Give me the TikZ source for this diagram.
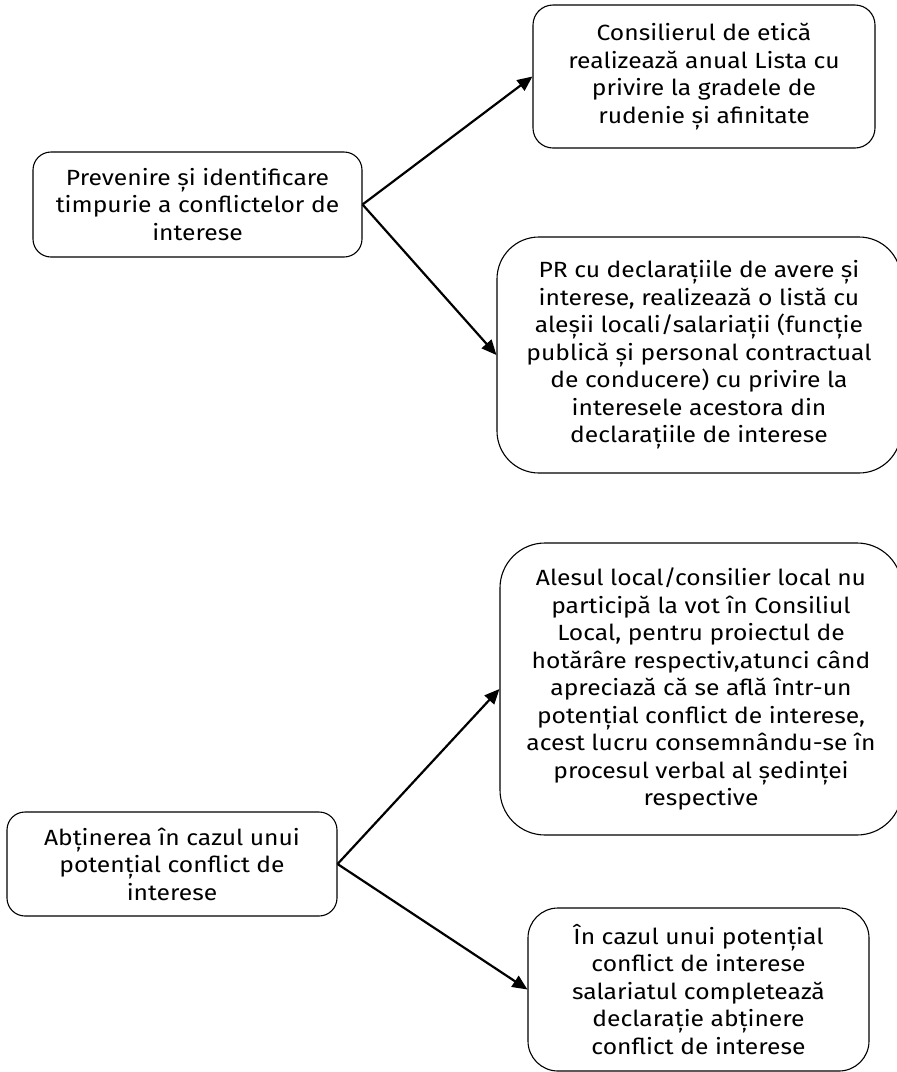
\documentclass[tikz,border=0pt]{standalone}
\usepackage{fontspec}
\setmainfont{Fira Sans}[FakeStretch=1.12]
\usetikzlibrary{arrows.meta}
\begin{document}
\begin{tikzpicture}[x=1pt,y=-1pt,
  box/.style={draw, line width=1.1pt, rounded corners=#1, align=center,
    inner sep=0pt, font=\fontsize{22}{27.5}\selectfont},
  box/.default=18pt,
  link/.style={line width=2.2pt, -{Triangle[length=15pt,width=13pt]}}]
  \useasboundingbox (0,0) rectangle (897,1072);

  % first group: prevention
  \node[box, minimum width=329pt, minimum height=105pt] (prev) at (197.5,204.5)
    {Prevenire și identificare\\timpurie a conflictelor de\\interese};
  \node[box=20pt, minimum width=342pt, minimum height=143pt] (etica) at (704,76.5)
    {Consilierul de etică\\realizează anual Lista cu\\privire la gradele de\\rudenie și afinitate};
  \node[box=42pt, minimum width=404pt, minimum height=236pt] (pr) at (699,355)
    {PR cu declarațiile de avere și\\interese, realizează o listă cu\\aleșii locali/salariații (funcție\\publică și personal contractual\\de conducere) cu privire la\\interesele acestora din\\declarațiile de interese};

  % second group: abstention
  \node[box, minimum width=330pt, minimum height=104pt] (abt) at (172,864)
    {Abținerea în cazul unui\\potențial conflict de\\interese};
  \node[box=45pt, minimum width=402pt, minimum height=292pt] (ales) at (701,689)
    {Alesul local/consilier local nu\\participă la vot în Consiliul\\Local, pentru proiectul de\\hotărâre respectiv,atunci când\\apreciază că se află într-un\\potențial conflict de interese,\\acest lucru consemnându-se în\\procesul verbal al ședinței\\respective};
  \node[box=30pt, minimum width=341pt, minimum height=163pt] (sal) at (698.5,989.5)
    {În cazul unui potențial\\conflict de interese\\salariatul completează\\declarație abținere\\conflict de interese};

  \draw[link] (prev.east) -- (etica.west);
  \draw[link] (prev.east) -- (pr.west);
  \draw[link] (abt.east) -- (ales.west);
  \draw[link] (abt.east) -- (sal.west);
\end{tikzpicture}
\end{document}
